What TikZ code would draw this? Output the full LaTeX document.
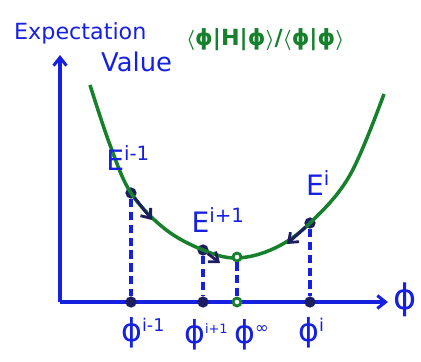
\documentclass[tikz,border=0pt]{standalone}
\usepackage{fontspec}
\setmainfont{DejaVu Sans}
\usetikzlibrary{arrows.meta}

\definecolor{penblue}{RGB}{22,32,225}
\definecolor{pengreen}{RGB}{22,128,45}
\definecolor{pennavy}{RGB}{28,30,95}

\newcommand{\supsm}[2][13]{\raisebox{9pt}{\fontsize{#1}{#1}\selectfont #2}}

\begin{document}
\begin{tikzpicture}[
    x=0.03cm, y=-0.03cm,
    dot/.style={circle, fill=pennavy, inner sep=3.4pt},
    hole/.style={circle, draw=pengreen, line width=2.4pt, fill=white, inner sep=2.4pt},
    drop/.style={penblue, line width=2.8pt, dash pattern=on 7pt off 4pt},
    move/.style={->, pennavy, line width=2.4pt},
    lbl/.style={penblue, font=\fontsize{24}{28}\selectfont},
    tick/.style={penblue, anchor=west, inner sep=0pt, font=\fontsize{27}{30}\selectfont},
    >={Straight Barb[length=7pt, width=11pt]}
]
    \useasboundingbox (0,0) rectangle (421,361);

    % axes
    \coordinate (O) at (60,302);
    \coordinate (ytop) at (60,55);
    \coordinate (xend) at (388,302);
    \draw[->, penblue, line width=2.6pt] (O) -- (ytop);
    \draw[->, penblue, line width=2.6pt] (O) -- (xend);
    \node[penblue, font=\fontsize{30}{34}\selectfont] (phi) at (405,300) {ϕ};

    % axis title and the ratio
    \node[lbl, anchor=west, font=\fontsize{19}{22}\selectfont] (t1) at (10,33) {Expectation};
    \node[lbl, anchor=west, font=\fontsize{22}{24}\selectfont] (t2) at (97,62) {Value};
    \node[pengreen, anchor=west, font=\fontsize{19}{22}\selectfont\bfseries\mathversion{bold}] (ratio) at (182,40)
        {$\langle$ϕ|H|ϕ$\rangle$/$\langle$ϕ|ϕ$\rangle$};

    % points on the curve
    \node[dot] (Ea) at (131,193) {};   % E^{i-1}
    \node[dot] (Eb) at (203,250) {};   % E^{i+1}
    \node[dot] (Ec) at (310,223) {};   % E^{i}

    % energy curve
    \draw[pengreen, line width=3pt] plot[smooth, tension=0.6] coordinates
        {(90,85) (110,145) (131,193) (165,229) (203,250) (237,258) (275,248) (310,223) (350,175) (384,94)};
    \node[hole] (Emin) at (237,257) {};

    % points on the axis
    \node[dot] (Pa) at (131,302) {};
    \node[dot] (Pb) at (203,302) {};
    \node[hole] (Pm) at (237,302) {};
    \node[dot] (Pc) at (310,302) {};

    \draw[drop] (Ea) -- (Pa);
    \draw[drop] (Eb) -- (Pb);
    \draw[drop] (Emin) -- (Pm);
    \draw[drop] (Ec) -- (Pc);

    % steps along the curve
    \coordinate (sa) at (152,220);
    \coordinate (sb) at (220,263);
    \coordinate (sc) at (287,244);
    \draw[move] (Ea) -- (sa);
    \draw[move] (Eb) -- (sb);
    \draw[move] (Ec) -- (sc);

    % labels
    \node[lbl] (la) at (128,158) {E\textsuperscript{i-1}};
    \node[lbl] (lb) at (218,220) {E\textsuperscript{i+1}};
    \node[lbl] (lc) at (318,183) {E\textsuperscript{i}};
    \node[tick] (ma) at (121,333) {ϕ\supsm[15]{i-1}};
    \node[tick] (mb) at (184,335) {ϕ\supsm[11]{i+1}};
    \node[tick] (mm) at (234,335) {ϕ\supsm[14]{∞}};
    \node[tick] (mc) at (298,333) {ϕ\supsm[15]{i}};
\end{tikzpicture}
\end{document}
